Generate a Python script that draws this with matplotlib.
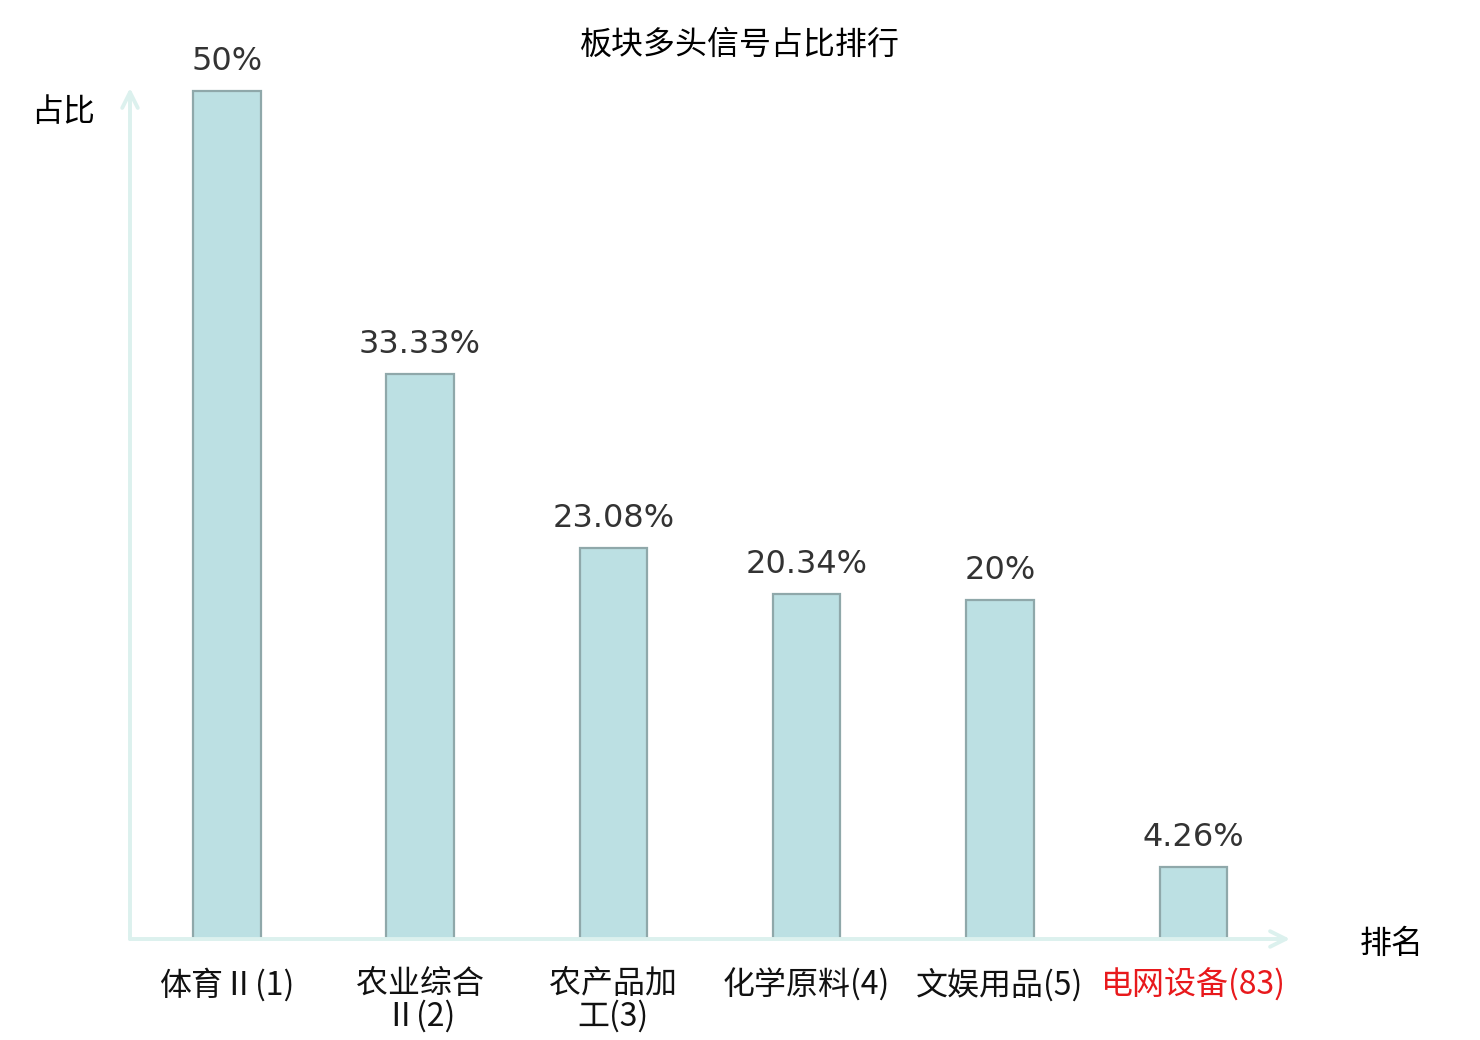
import matplotlib.pyplot as plt

plt.rcParams['font.family'] = ['Noto Sans CJK SC', 'DejaVu Sans']

categories = ['体育Ⅱ(1)', '农业综合\nⅡ(2)', '农产品加\n工(3)', '化学原料(4)', '文娱用品(5)', '电网设备(83)']
values = [50, 33.33, 23.08, 20.34, 20, 4.26]
value_labels = ['50%', '33.33%', '23.08%', '20.34%', '20%', '4.26%']
label_colors = ['#111111'] * 5 + ['#e8191c']

W, H = 1480, 1040
fig = plt.figure(figsize=(W / 200, H / 200), dpi=200)
# axes box in pixel terms: x 130..1290, y 88..939
ax = fig.add_axes([130 / W, (H - 939) / H, 1160 / W, (939 - 88) / H])

x = list(range(len(values)))
ax.bar(x, values, width=0.35, color='#bce0e3', edgecolor='#8fa8aa', linewidth=0.8, zorder=2)
ax.set_xlim(-0.5, len(values) - 0.5)
ax.set_ylim(0, 50 * (939 - 88) / (939 - 91))

for xi, v, lab in zip(x, values, value_labels):
    ax.annotate(lab, (xi, v), xytext=(0, 5), textcoords='offset points',
                ha='center', va='bottom', fontsize=11.5, color='#333333',
                family='DejaVu Sans')

for s in ax.spines.values():
    s.set_visible(False)
ax.set_yticks([])
ax.set_xticks(x)
ax.set_xticklabels(categories, fontsize=11.5, linespacing=1.0)
for t, c in zip(ax.get_xticklabels(), label_colors):
    t.set_color(c)
ax.tick_params(axis='x', length=0, pad=10.5)

axis_col = '#dcf1ee'
arrow = dict(arrowstyle='->', color=axis_col, lw=1.4, mutation_scale=14, shrinkA=0, shrinkB=0)
ax.annotate('', xy=(0, 1), xytext=(0, 0), xycoords='axes fraction', arrowprops=arrow)
ax.annotate('', xy=(1, 0), xytext=(0, 0), xycoords='axes fraction', arrowprops=arrow)

fig.text(740 / W, 1 - 45 / H, '板块多头信号占比排行', ha='center', va='center', fontsize=11.5)
fig.text(63 / W, 1 - 112 / H, '占比', ha='center', va='center', fontsize=11.5)
fig.text(1392 / W, 1 - 944 / H, '排名', ha='center', va='center', fontsize=11.5)

fig.savefig('out.png', dpi=200)
